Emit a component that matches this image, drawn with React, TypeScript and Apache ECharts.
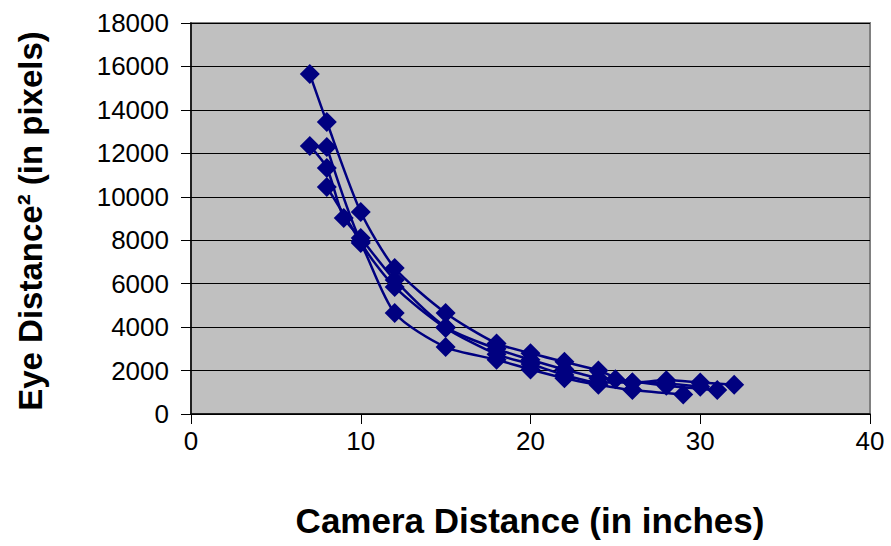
import React, { useEffect, useRef } from "react";
import * as echarts from "echarts";

const xTicks = [0, 10, 20, 30, 40];
const yTicks = [0, 2000, 4000, 6000, 8000, 10000, 12000, 14000, 16000, 18000];

const series1: [number, number][] = [
  [7, 15650], [8, 13440], [10, 9300], [12, 6720], [15, 4650], [18, 3250], [20, 2800],
  [22, 2400], [24, 2000], [26, 1450], [28, 1550], [30, 1450], [32, 1350],
];
const series2: [number, number][] = [
  [7, 12340], [8, 11330], [9, 9020], [10, 8100], [12, 6170], [15, 4000], [18, 3000],
  [20, 2500], [22, 2050], [24, 1650], [25, 1600], [28, 1300], [31, 1100],
];
const series3: [number, number][] = [
  [8, 12290], [10, 7950], [12, 5850], [15, 3960], [18, 2750], [20, 2300], [22, 1800],
  [24, 1450], [26, 1450], [28, 1400], [30, 1250],
];
const series4: [number, number][] = [
  [8, 10450], [10, 7870], [12, 4650], [15, 3080], [18, 2500], [20, 2050], [22, 1650],
  [24, 1350], [26, 1100], [29, 900],
];
const allSeries = [series1, series2, series3, series4];

const FONT = "'Liberation Sans', Arial, sans-serif";

export default function App() {
  const ref = useRef<HTMLDivElement>(null);
  useEffect(() => {
    if (!ref.current) return;
    const chart = echarts.init(ref.current, undefined, { renderer: "svg" });
    chart.setOption({
      animation: false,
      backgroundColor: "#ffffff",
      grid: {
        left: 191,
        top: 23,
        width: 679,
        height: 391,
        show: true,
        backgroundColor: "#c0c0c0",
        borderColor: "#808080",
        borderWidth: 2,
      },
      xAxis: {
        type: "value",
        min: xTicks[0],
        max: xTicks[xTicks.length - 1],
        interval: 10,
        axisLine: { show: true, onZero: false, lineStyle: { color: "#000", width: 1.5 } },
        axisTick: { show: true, inside: false, length: 10, lineStyle: { color: "#000" } },
        axisLabel: { margin: 14, fontSize: 26, color: "#000", fontFamily: FONT, formatter: (v: number) => String(v) },
        splitLine: { show: false },
      },
      yAxis: {
        type: "value",
        min: yTicks[0],
        max: yTicks[yTicks.length - 1],
        interval: 2000,
        axisLine: { show: true, onZero: false, lineStyle: { color: "#000", width: 1.5 } },
        axisTick: { show: true, inside: false, length: 10, lineStyle: { color: "#000" } },
        axisLabel: { margin: 22, fontSize: 26, color: "#000", fontFamily: FONT, formatter: (v: number) => String(v) },
        splitLine: { show: true, lineStyle: { color: "#000", width: 1 } },
      },
      series: allSeries.map((d) => ({
        type: "line",
        data: d,
        symbol: "diamond",
        symbolSize: 20,
        showSymbol: true,
        lineStyle: { color: "#000080", width: 2.5 },
        itemStyle: { color: "#000080", borderColor: "#000080", borderWidth: 0 },
        smooth: 0.25,
      })),
      graphic: [
        {
          type: "text",
          x: 30,
          y: 221,
          rotation: Math.PI / 2,
          style: {
            text: "Eye Distance² (in pixels)",
            font: `bold 33px ${FONT}`,
            fill: "#000",
            align: "center",
            verticalAlign: "middle",
          },
        },
        {
          type: "text",
          x: 530,
          y: 520,
          style: {
            text: "Camera Distance (in inches)",
            font: `bold 35px ${FONT}`,
            fill: "#000",
            align: "center",
            verticalAlign: "middle",
          },
        },
      ],
    });
    return () => chart.dispose();
  }, []);
  return (
    <div
      ref={ref}
      style={{ position: "fixed", left: 0, top: 0, width: 891, height: 546 }}
    />
  );
}
